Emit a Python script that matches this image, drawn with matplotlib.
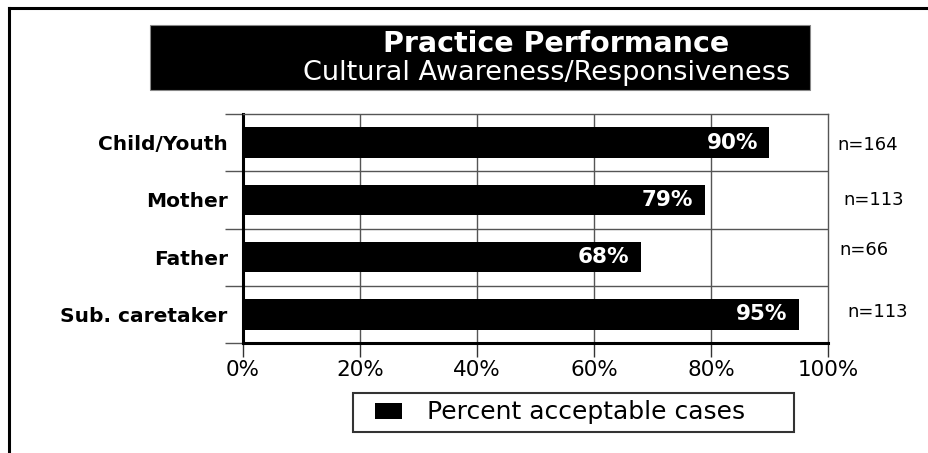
import matplotlib
matplotlib.use("Agg")
import matplotlib.pyplot as plt
from matplotlib.patches import Rectangle
from matplotlib.lines import Line2D
from matplotlib.legend_handler import HandlerPatch

categories = ["Child/Youth", "Mother", "Father", "Sub. caretaker"]
values = [90, 79, 68, 95]
n_labels = ["n=164", "n=113", "n=66", "n=113"]
x_ticks = [0, 20, 40, 60, 80, 100]
x_ticklabels = ["0%", "20%", "40%", "60%", "80%", "100%"]
title = "Practice Performance"
subtitle = "Cultural Awareness/Responsiveness"
legend_label = "Percent acceptable cases"

W, H = 929, 453
plt.rcParams['font.family'] = ['DejaVu Sans']
fig = plt.figure(figsize=(W / 100, H / 100), dpi=100)

def fx(px):
    return px / W

def fy(py):
    return 1 - py / H

# outer frame lines (top and left)
fig.add_artist(Line2D([fx(9), 1.0], [fy(8), fy(8)], color="black", lw=2.2))
fig.add_artist(Line2D([fx(9), fx(9)], [fy(8), 0.0], color="black", lw=2.2))

# title box
fig.add_artist(Rectangle((fx(150), fy(90)), fx(810) - fx(150), fy(25) - fy(90),
                         facecolor="black", edgecolor="#888888", lw=0.8))
fig.text(fx(556), fy(44), title, color="white", fontsize=20.5, fontweight="bold",
         ha="center", va="center")
fig.text(fx(547), fy(72.5), subtitle, color="white", fontsize=19.5,
         ha="center", va="center")

ax = fig.add_axes([fx(243), fy(343), fx(828) - fx(243), fy(114) - fy(343)])
ypos = list(range(len(categories)))
bars = ax.barh(ypos, values, height=0.53, color="black", label=legend_label, zorder=3)
ax.set_xlim(0, 100)
ax.set_ylim(len(categories) - 0.5, -0.5)

# category boundary lines
for b in [0.5, 1.5, 2.5]:
    ax.axhline(b, color="#555555", lw=1.0, zorder=1)
for t in x_ticks[1:-1]:
    ax.axvline(t, color="#555555", lw=1.0, zorder=1)

ax.set_xticks(x_ticks)
ax.set_xticklabels(x_ticklabels, fontsize=15.5)
ax.set_yticks([-0.5, 0.5, 1.5, 2.5, 3.5])
ax.set_yticklabels([])
ax.set_yticks(ypos, minor=True)
ax.set_yticklabels(categories, minor=True, fontsize=14.5, fontweight="bold")
ax.tick_params(axis="y", which="minor", length=0, pad=11)
ax.tick_params(axis="y", which="major", length=13, width=1.0, color="#555555", direction="out")
ax.tick_params(axis="x", which="major", length=10, width=1.0, color="#333333", direction="out", pad=2)

for s in ["top", "right"]:
    ax.spines[s].set_color("#555555")
    ax.spines[s].set_linewidth(1.0)
for s in ["left", "bottom"]:
    ax.spines[s].set_color("black")
    ax.spines[s].set_linewidth(2.2)

for i, v in enumerate(values):
    ax.text(v - 2.0, i, f"{v}%", color="white", fontsize=15.5, fontweight="bold",
            ha="right", va="center", zorder=4)

n_offsets_px = [(837, 145), (843, 200), (839, 250), (847, 312)]
for (px, py), lab in zip(n_offsets_px, n_labels):
    fig.text(fx(px), fy(py), lab, fontsize=13, ha="left", va="center")


def square_patch(legend, orig_handle, xdescent, ydescent, width, height, fontsize):
    w = 1.08 * fontsize
    h = 0.62 * fontsize
    return Rectangle((-xdescent + width - w, -ydescent + (height - h) / 2), w, h)


def copy_bar_style(legend_handle, orig_handle):
    legend_handle.update_from(orig_handle.patches[0])


leg = ax.legend(loc="lower left",
                bbox_to_anchor=(fx(353), fy(432), fx(794) - fx(353), fy(393) - fy(432)),
                bbox_transform=fig.transFigure, mode="expand",
                frameon=True, fancybox=False, edgecolor="black", fontsize=18,
                handlelength=1.68, handleheight=0.8, handletextpad=1.0,
                borderpad=0.3, borderaxespad=0,
                handler_map={type(bars): HandlerPatch(patch_func=square_patch,
                                                      update_func=copy_bar_style)})
leg.get_frame().set_linewidth(1.5)

fig.savefig("out.png", dpi=100, facecolor="white")
